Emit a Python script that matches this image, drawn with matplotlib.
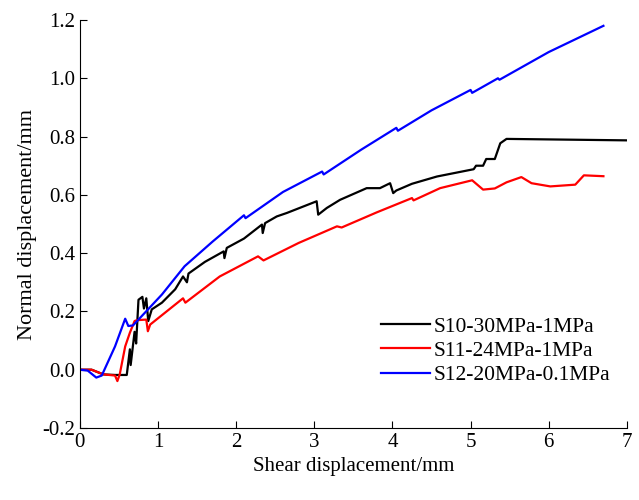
import matplotlib
matplotlib.use("Agg")
import matplotlib.pyplot as plt

plt.rcParams["font.family"] = ["Liberation Serif", "DejaVu Serif"]

# data
x_s10 = [0, 0.15, 0.3, 0.45, 0.6, 0.64, 0.65, 0.70, 0.72, 0.75, 0.8, 0.82, 0.85, 0.875, 0.92, 1.05, 1.22,
         1.32, 1.37, 1.39, 1.6, 1.84, 1.85, 1.88, 2.1, 2.33, 2.34, 2.37, 2.52, 2.65, 3.03, 3.05, 3.16,
         3.33, 3.67, 3.84, 3.97, 4.01, 4.05, 4.25, 4.57, 5.04, 5.07, 5.16, 5.2, 5.31, 5.38, 5.46, 7.0]
y_s10 = [0, 0, -0.016, -0.018, -0.018, 0.07, 0.016, 0.13, 0.09, 0.24, 0.25, 0.21, 0.245, 0.167, 0.207, 0.23, 0.276,
         0.32, 0.30, 0.33, 0.37, 0.406, 0.383, 0.418, 0.45, 0.498, 0.469, 0.503, 0.526, 0.538, 0.578, 0.532, 0.555,
         0.583, 0.623, 0.623, 0.64, 0.606, 0.615, 0.638, 0.663, 0.688, 0.70, 0.70, 0.723, 0.723, 0.777, 0.792, 0.787]

x_s11 = [0, 0.15, 0.3, 0.45, 0.48, 0.51, 0.58, 0.64, 0.70, 0.73, 0.85, 0.87, 0.9, 1.32, 1.35, 1.79,
         2.28, 2.35, 2.8, 3.29, 3.35, 3.8, 4.25, 4.27, 4.61, 5.02, 5.16, 5.31, 5.46, 5.65, 5.78, 6.02,
         6.34, 6.45, 6.70]
y_s11 = [0, 0, -0.016, -0.02, -0.039, -0.016, 0.08, 0.127, 0.167, 0.17, 0.172, 0.132, 0.155, 0.245, 0.23, 0.32,
         0.389, 0.375, 0.435, 0.492, 0.488, 0.54, 0.589, 0.581, 0.623, 0.65, 0.618, 0.622, 0.643, 0.661, 0.64, 0.629,
         0.635, 0.667, 0.664]

x_s12 = [0, 0.1, 0.21, 0.28, 0.45, 0.58, 0.62, 0.68, 1.05, 1.34, 1.7, 2.1, 2.12, 2.6, 3.1, 3.12,
         3.6, 4.05, 4.07, 4.5, 5.0, 5.02, 5.35, 5.37, 6.0, 6.7]
y_s12 = [0, -0.003, -0.027, -0.02, 0.08, 0.175, 0.15, 0.152, 0.258, 0.355, 0.44, 0.53, 0.52, 0.61, 0.68, 0.67,
         0.755, 0.83, 0.82, 0.89, 0.96, 0.95, 1.0, 0.995, 1.09, 1.18]

labels = ["S10-30MPa-1MPa", "S11-24MPa-1MPa", "S12-20MPa-0.1MPa"]
colors = ["black", "red", "blue"]

fig = plt.figure(figsize=(6.39, 5.0), dpi=100)
ax = fig.add_axes([0.125, 0.144, 0.856, 0.816])

for xs, ys, lab, c in zip([x_s10, x_s11, x_s12], [y_s10, y_s11, y_s12], labels, colors):
    ax.plot(xs, ys, color=c, lw=1.6, label=lab)

ax.set_xlim(0, 7)
ax.set_ylim(-0.2, 1.2)
ax.set_xticks(range(8))
ax.set_yticks([-0.2, 0.0, 0.2, 0.4, 0.6, 0.8, 1.0, 1.2])
ax.set_yticklabels(["-0.2", "0.0", "0.2", "0.4", "0.6", "0.8", "1.0", "1.2"])
ax.spines["top"].set_visible(False)
ax.spines["right"].set_visible(False)
ax.tick_params(direction="in", length=5, labelsize=15)
ax.set_xlabel("Shear displacement/mm", fontsize=15)
ax.set_ylabel("Normal displacement/mm", fontsize=16)

ax.legend(loc="center left", bbox_to_anchor=(370 / 639, 1 - 351 / 500),
          bbox_transform=fig.transFigure, frameon=False, fontsize=15.5,
          borderpad=0, handlelength=2.3, handletextpad=0.15, labelspacing=0.2)

fig.savefig("out.png", dpi=100)
